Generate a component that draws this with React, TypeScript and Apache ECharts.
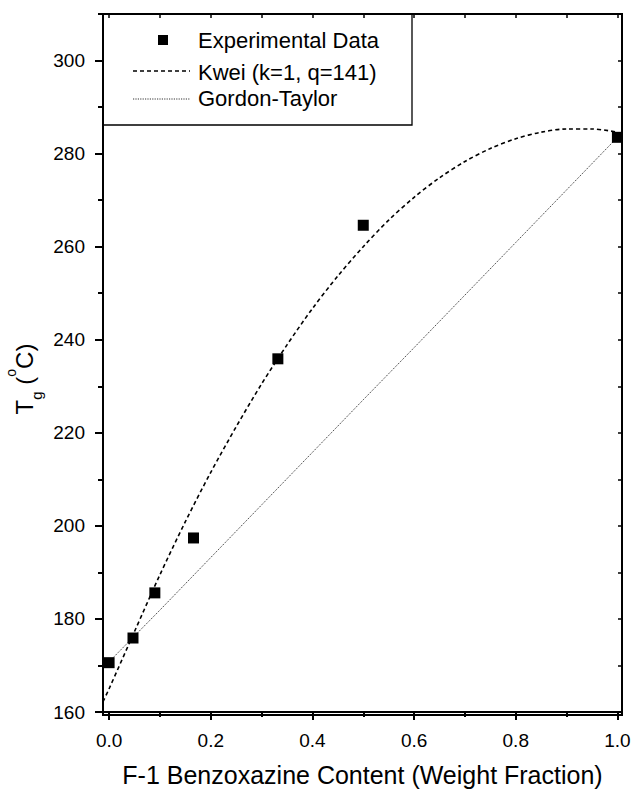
import React, { useEffect, useRef } from "react";
import * as echarts from "echarts";

// ---- data ----
const expX = [0, 0.047, 0.09, 0.166, 0.332, 0.5, 1.0];
const expY = [170.6, 175.9, 185.6, 197.4, 235.9, 264.6, 283.5];

const kweiX = [-0.012, 0, 0.05, 0.1, 0.15, 0.2, 0.25, 0.3, 0.35, 0.4, 0.45, 0.5, 0.55, 0.6, 0.65, 0.7, 0.75, 0.8, 0.85, 0.9, 0.95, 1.0];
const kweiY = [162.2, 165.0, 177.3, 189.5, 200.9, 211.5, 221.3, 230.5, 238.9, 246.7, 253.7, 260.0, 265.7, 270.6, 274.8, 278.3, 281.1, 283.2, 284.6, 285.3, 285.3, 284.6];

const gtX = [0, 0.1, 0.2, 0.3, 0.4, 0.5, 0.6, 0.7, 0.8, 0.9, 1.0];
const gtY = [170.8, 181.9, 193.2, 204.5, 215.8, 227.1, 238.3, 249.6, 260.9, 272.2, 283.5];

const xMajor = [0, 0.2, 0.4, 0.6, 0.8, 1.0];
const xMinor = [0.1, 0.3, 0.5, 0.7, 0.9];
const xAll = [0, 0.1, 0.2, 0.3, 0.4, 0.5, 0.6, 0.7, 0.8, 0.9, 1.0];
const yMajor = [160, 180, 200, 220, 240, 260, 280, 300];
const yMinor = [170, 190, 210, 230, 250, 270, 290, 310];
const yAll = [160, 170, 180, 190, 200, 210, 220, 230, 240, 250, 260, 270, 280, 290, 300, 310];

const seriesNames = ["Experimental Data", "Kwei (k=1, q=141)", "Gordon-Taylor"];
const xName = "F-1 Benzoxazine Content (Weight Fraction)";

const X_MIN = -0.012;
const X_MAX = 1.009;
const Y_MIN = 160;
const Y_MAX = 310;

const FONT = "'Liberation Sans', Arial, Helvetica, sans-serif";
const AXIS_COLOR = "#000";

const GRID = { left: 103, right: 12, top: 14, bottom: 77 };
const W = 634;
const H = 792;

function zip(xs: number[], ys: number[]) {
  return xs.map((x, i) => [x, ys[i]]);
}

export default function App() {
  const ref = useRef<HTMLDivElement>(null);

  useEffect(() => {
    if (!ref.current) return;
    const chart = echarts.init(ref.current, undefined, { renderer: "svg" });

    const mk = (w: number) => ({ color: AXIS_COLOR, width: w, opacity: 1 });
    const hiddenLabel = { show: false };
    const noSplit = { show: false };

    const option: any = {
      animation: false,
      backgroundColor: "#fff",
      textStyle: { fontFamily: FONT, color: "#000" },
      grid: GRID,
      xAxis: [
        {
          type: "value",
          position: "bottom",
          min: X_MIN,
          max: X_MAX,
          name: xName,
          nameLocation: "middle",
          nameGap: 50,
          nameTextStyle: { fontSize: 25, color: "#000", fontFamily: FONT },
          axisLine: { show: true, onZero: false, lineStyle: mk(2) },
          axisTick: { show: true, inside: false, length: 8, customValues: xMajor, lineStyle: mk(2) },
          axisLabel: {
            customValues: xMajor,
            formatter: (v: number) => v.toFixed(1),
            fontSize: 19,
            color: "#000",
            margin: 19,
            fontFamily: FONT,
          },
          splitLine: noSplit,
        },
        {
          type: "value",
          position: "bottom",
          min: X_MIN,
          max: X_MAX,
          axisLine: { show: false, onZero: false },
          axisTick: { show: true, inside: false, length: 5, customValues: xMinor, lineStyle: mk(2) },
          axisLabel: hiddenLabel,
          splitLine: noSplit,
        },
        {
          type: "value",
          position: "top",
          min: X_MIN,
          max: X_MAX,
          axisLine: { show: true, onZero: false, lineStyle: mk(2) },
          axisTick: { show: true, inside: true, length: 4, customValues: xAll, lineStyle: mk(1.5) },
          axisLabel: hiddenLabel,
          splitLine: noSplit,
        },
      ],
      yAxis: [
        {
          type: "value",
          position: "left",
          min: Y_MIN,
          max: Y_MAX,
          axisLine: { show: true, onZero: false, lineStyle: mk(2) },
          axisTick: { show: true, inside: false, length: 8, customValues: yMajor, lineStyle: mk(2) },
          axisLabel: {
            customValues: yMajor,
            fontSize: 19,
            color: "#000",
            margin: 18,
            fontFamily: FONT,
          },
          splitLine: noSplit,
        },
        {
          type: "value",
          position: "left",
          min: Y_MIN,
          max: Y_MAX,
          axisLine: { show: false, onZero: false },
          axisTick: { show: true, inside: false, length: 5, customValues: yMinor, lineStyle: mk(2) },
          axisLabel: hiddenLabel,
          splitLine: noSplit,
        },
        {
          type: "value",
          position: "right",
          min: Y_MIN,
          max: Y_MAX,
          axisLine: { show: true, onZero: false, lineStyle: mk(2) },
          axisTick: { show: true, inside: true, length: 4, customValues: yAll, lineStyle: mk(1.5) },
          axisLabel: hiddenLabel,
          splitLine: noSplit,
        },
      ],
      series: [
        {
          name: seriesNames[2],
          type: "line",
          xAxisIndex: 0,
          yAxisIndex: 0,
          data: zip(gtX, gtY),
          showSymbol: false,
          symbol: "none",
          lineStyle: { color: "#333", width: 1, type: [1.2, 1.2], opacity: 1 },
          z: 2,
        },
        {
          name: seriesNames[1],
          type: "line",
          xAxisIndex: 0,
          yAxisIndex: 0,
          data: zip(kweiX, kweiY),
          showSymbol: false,
          symbol: "none",
          smooth: 0.3,
          lineStyle: { color: "#000", width: 1.6, type: [4, 3], opacity: 1 },
          z: 3,
        },
        {
          name: seriesNames[0],
          type: "scatter",
          xAxisIndex: 0,
          yAxisIndex: 0,
          data: zip(expX, expY),
          symbol: "rect",
          symbolSize: 11,
          itemStyle: { color: "#000", opacity: 1 },
          z: 4,
        },
      ],
      graphic: [
        // plot frame
        {
          type: "rect",
          shape: { x: GRID.left, y: GRID.top, width: W - GRID.left - GRID.right, height: H - GRID.top - GRID.bottom },
          style: { fill: "none", stroke: "#000", lineWidth: 2 },
          z: 20,
        },
        {
          type: "rect",
          shape: { x: 103, y: 14, width: 309, height: 111 },
          style: { fill: "none", stroke: "#000", lineWidth: 1.3 },
          z: 10,
        },
        {
          type: "rect",
          shape: { x: 158, y: 35, width: 10, height: 10 },
          style: { fill: "#000" },
          z: 10,
        },
        {
          type: "line",
          shape: { x1: 133, y1: 71, x2: 190, y2: 71 },
          style: { stroke: "#000", lineWidth: 1.5, lineDash: [4, 3] },
          z: 10,
        },
        {
          type: "line",
          shape: { x1: 133, y1: 99, x2: 190, y2: 99 },
          style: { stroke: "#333", lineWidth: 1, lineDash: [1.2, 1.2] },
          z: 10,
        },
        {
          type: "text",
          x: 198,
          y: 40,
          style: { text: seriesNames[0], fontSize: 22, fontFamily: FONT, fill: "#000", verticalAlign: "middle", textVerticalAlign: "middle" },
          z: 10,
        },
        {
          type: "text",
          x: 198,
          y: 72,
          style: { text: seriesNames[1], fontSize: 22, fontFamily: FONT, fill: "#000", verticalAlign: "middle", textVerticalAlign: "middle" },
          z: 10,
        },
        {
          type: "text",
          x: 198,
          y: 98,
          style: { text: seriesNames[2], fontSize: 22, fontFamily: FONT, fill: "#000", verticalAlign: "middle", textVerticalAlign: "middle" },
          z: 10,
        },
        {
          type: "text",
          x: 24,
          y: 379,
          rotation: Math.PI / 2,
          style: {
            text: "{t|T}{g|g}{t| (}{o|o}{t|C)}",
            align: "center",
            verticalAlign: "middle",
            textAlign: "center",
            textVerticalAlign: "middle",
            fill: "#000",
            rich: {
              t: { fontSize: 24, lineHeight: 40, verticalAlign: "middle", fontFamily: FONT, fill: "#000", color: "#000" },
              g: { fontSize: 15, lineHeight: 15, verticalAlign: "bottom", fontFamily: FONT, fill: "#000", color: "#000" },
              o: { fontSize: 14, lineHeight: 26, verticalAlign: "top", fontFamily: FONT, fill: "#000", color: "#000" },
            },
          },
          z: 10,
        },
      ],
    };

    chart.setOption(option);
    return () => chart.dispose();
  }, []);

  return (
    <div
      ref={ref}
      style={{ position: "fixed", left: 0, top: 0, width: W, height: H, background: "#fff" }}
    />
  );
}
